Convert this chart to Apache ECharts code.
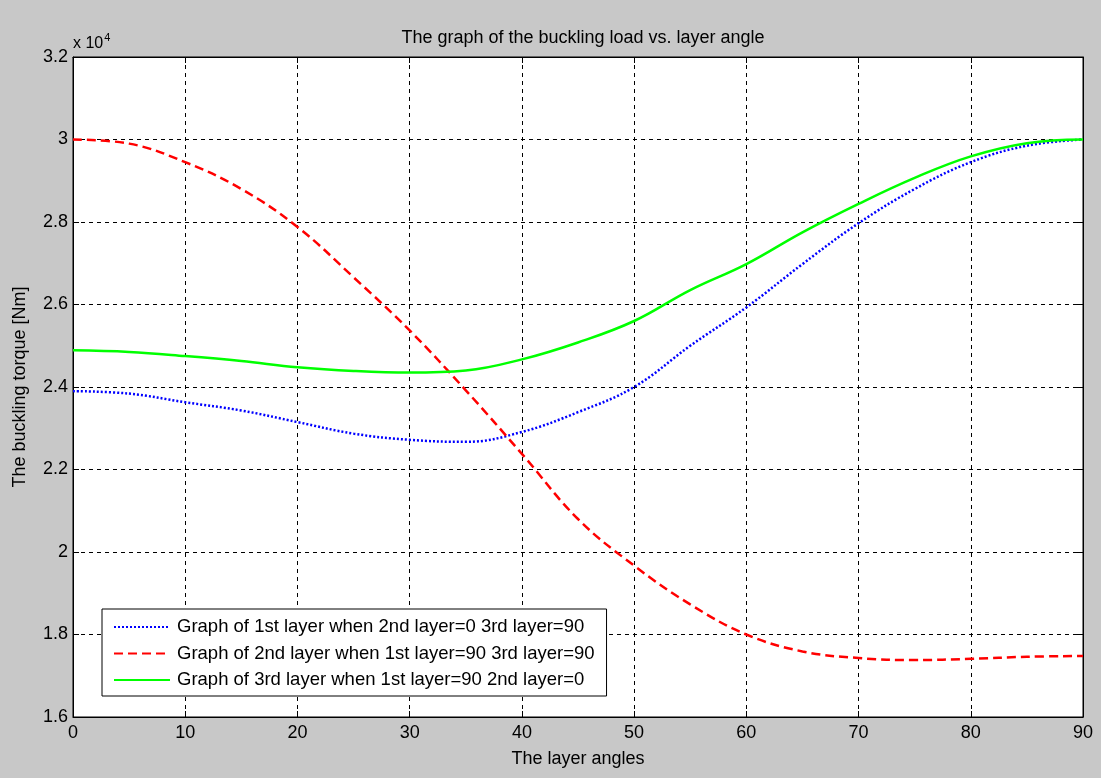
<!DOCTYPE html>
<html>
<head>
<meta charset="utf-8">
<script src="https://cdn.jsdelivr.net/npm/echarts@6/dist/echarts.min.js"></script>
<style>
html,body{margin:0;padding:0;background:#c8c8c8;}
#chart{width:1101px;height:778px;}
</style>
</head>
<body>
<div id="chart"></div>
<script>
// Data (values in units of 10^4 Nm)
const angles = [0,5,10,15,20,25,30,35,40,45,50,55,60,65,70,75,80,85,90];
const series1Name = 'Graph of 1st layer when 2nd layer=0 3rd layer=90';
const series2Name = 'Graph of 2nd layer when 1st layer=90 3rd layer=90';
const series3Name = 'Graph of 3rd layer when 1st layer=90 2nd layer=0';
const layer1 = [2.390,2.384,2.363,2.343,2.315,2.287,2.272,2.267,2.291,2.339,2.400,2.500,2.593,2.698,2.797,2.880,2.945,2.985,3.000];
const layer2 = [3.000,2.990,2.945,2.880,2.788,2.666,2.537,2.392,2.238,2.080,1.967,1.873,1.800,1.759,1.743,1.738,1.741,1.746,1.748];
const layer3 = [2.489,2.485,2.475,2.463,2.448,2.439,2.435,2.440,2.467,2.508,2.560,2.635,2.698,2.775,2.844,2.907,2.959,2.991,3.000];
const xTicks = [0,10,20,30,40,50,60,70,80,90];
const yTicks = [1.6,1.8,2.0,2.2,2.4,2.6,2.8,3.0,3.2];

const toPairs = arr => angles.map((a,i)=>[a,arr[i]]);
const font = 'Liberation Sans, Arial, sans-serif';

const chart = echarts.init(document.getElementById('chart'));
const gridLine = {show:true, lineStyle:{color:'#000', type:[4,4], width:1}};
const baseX = {type:'value', min:xTicks[0], max:xTicks[xTicks.length-1], interval:xTicks[1]-xTicks[0],
  axisLine:{show:true, onZero:false, lineStyle:{color:'#000', width:1}},
  axisTick:{show:true, inside:true, length:6, lineStyle:{color:'#000'}}};
const baseY = {type:'value', min:yTicks[0], max:yTicks[yTicks.length-1], interval:0.2,
  axisLine:{show:true, onZero:false, lineStyle:{color:'#000', width:1}},
  axisTick:{show:true, inside:true, length:6, lineStyle:{color:'#000'}}};

chart.setOption({
  backgroundColor:'#c8c8c8',
  animation:false,
  title:{text:'The graph of the buckling load vs. layer angle', left:578, top:24, textAlign:'center',
    textStyle:{fontFamily:font, fontSize:18, fontWeight:'normal', color:'#000'}},
  grid:{left:73, right:18, top:57, bottom:61, show:true, backgroundColor:'#fff', borderColor:'#000', borderWidth:1},
  xAxis:[
    Object.assign({}, baseX, {position:'bottom', name:'The layer angles', nameLocation:'middle', nameGap:33,
      nameTextStyle:{fontFamily:font, fontSize:18, color:'#000'},
      splitLine:gridLine,
      axisLabel:{fontFamily:font, fontSize:18, color:'#000', margin:7}}),
    Object.assign({}, baseX, {position:'top', axisLabel:{show:false}, splitLine:{show:false}})
  ],
  yAxis:[
    Object.assign({}, baseY, {position:'left', name:'The buckling torque [Nm]', nameLocation:'middle', nameGap:44,
      nameTextStyle:{fontFamily:font, fontSize:18, color:'#000'},
      splitLine:gridLine,
      axisLabel:{fontFamily:font, fontSize:18, color:'#000', margin:5,
        formatter: v => (Math.round(v*10)/10).toString()}}),
    Object.assign({}, baseY, {position:'right', axisLabel:{show:false}, splitLine:{show:false}})
  ],
  legend:{
    orient:'vertical', left:102, top:609, itemWidth:56, itemHeight:14, itemGap:6.5,
    padding:[8,12,6,11],
    backgroundColor:'#fff', borderColor:'#000', borderWidth:1, borderRadius:0,
    itemStyle:{opacity:0},
    textStyle:{fontFamily:font, fontSize:18.5, lineHeight:20, color:'#000', padding:[0,0,0,2]},
    data:[series1Name, series2Name, series3Name]
  },
  graphic:[{
    type:'text', left:73, top:32,
    style:{text:'{a|x 10}{b|4}', rich:{a:{fontFamily:font, fontSize:16, fill:'#000'}, b:{fontFamily:font, fontSize:11, fill:'#000', verticalAlign:'top', padding:[0,0,12,1]}}}
  }],
  series:[
    {name:series1Name, type:'line', data:toPairs(layer1), smooth:0.4, showSymbol:false, symbol:'none',
      lineStyle:{color:'#0000ff', width:2.5, type:[2,2]}, itemStyle:{color:'#0000ff'}},
    {name:series2Name, type:'line', data:toPairs(layer2), smooth:0.4, showSymbol:false, symbol:'none',
      lineStyle:{color:'#ff0000', width:2.5, type:[9,5]}, itemStyle:{color:'#ff0000'}},
    {name:series3Name, type:'line', data:toPairs(layer3), smooth:0.4, showSymbol:false, symbol:'none',
      lineStyle:{color:'#00ff00', width:2.5, type:'solid'}, itemStyle:{color:'#00ff00'}}
  ]
});
</script>
</body>
</html>
